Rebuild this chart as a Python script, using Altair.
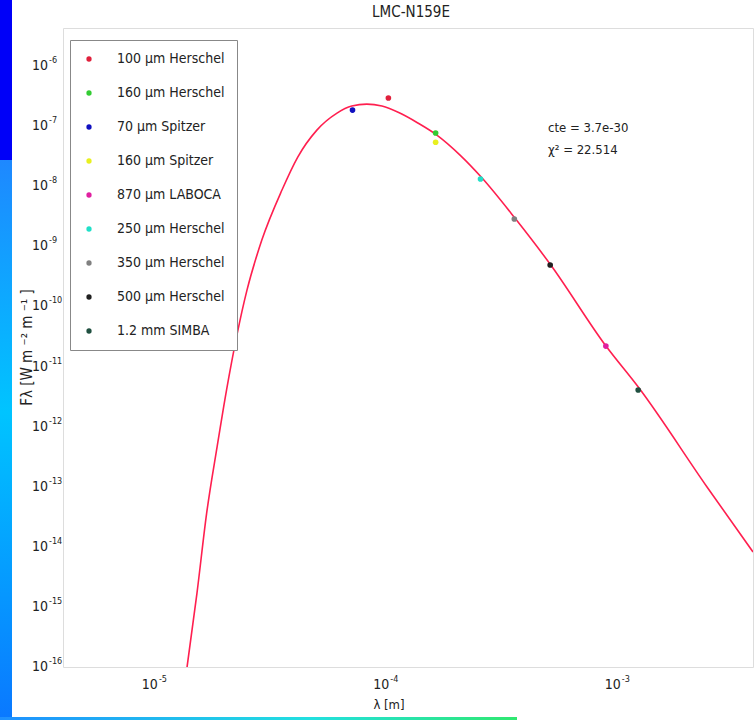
import altair as alt
import pandas as pd

# ---- data ----
series_names = ["100 \u03bcm Herschel", "160 \u03bcm Herschel", "70 \u03bcm Spitzer",
                "160 \u03bcm Spitzer", "870 \u03bcm LABOCA", "250 \u03bcm Herschel",
                "350 \u03bcm Herschel", "500 \u03bcm Herschel", "1.2 mm SIMBA"]
series_colors = ["#e0203c", "#33cc33", "#1010c0", "#e8f020", "#e020a0",
                 "#20e0c8", "#808080", "#202020", "#205040"]
point_wavelength = [1.0e-4, 1.6e-4, 7.0e-5, 1.6e-4, 8.7e-4, 2.5e-4, 3.5e-4, 5.0e-4, 1.2e-3]
point_flux = [2.94e-7, 7.7e-8, 1.85e-7, 5.4e-8, 2.19e-11, 1.32e-8, 2.85e-9, 4.9e-10, 4.07e-12]

curve_wavelength = [1.35e-5, 1.49e-5, 1.64e-5, 1.82e-5, 2.00e-5, 2.45e-5, 2.84e-5, 3.47e-5,
                    4.06e-5, 4.91e-5, 6.0e-5, 6.95e-5, 8.07e-5, 9.38e-5, 1.12e-4, 1.34e-4,
                    1.62e-4, 2.04e-4, 2.54e-4, 3.52e-4, 5.03e-4, 8.71e-4, 1.21e-3, 2.38e-3, 3.76e-3]
curve_flux = [1.0e-16, 1.70e-15, 3.6e-14, 4.6e-13, 4.1e-12, 1.87e-10, 1.27e-9, 8.65e-9,
              3.06e-8, 8.6e-8, 1.65e-7, 2.16e-7, 2.33e-7, 2.16e-7, 1.65e-7, 1.13e-7,
              7.1e-8, 3.3e-8, 1.37e-8, 2.96e-9, 4.89e-10, 2.19e-11, 4.38e-12, 9.9e-14, 8.2e-15]

x_ticks = [1e-5, 1e-4, 1e-3]
x_tick_exponents = ["-5", "-4", "-3"]
y_ticks = [1e-16, 1e-15, 1e-14, 1e-13, 1e-12, 1e-11, 1e-10, 1e-9, 1e-8, 1e-7, 1e-6]
y_tick_exponents = ["-16", "-15", "-14", "-13", "-12", "-11", "-10", "-9", "-8", "-7", "-6"]
tick_base = "10"
x_domain = [3.93e-6, 3.76e-3]
y_domain = [1e-16, 4.3e-6]
annotation_lines = ["cte = 3.7e-30", "\u03c7\u00b2  = 22.514"]
title_text = "LMC-N159E"
x_title = "\u03bb [m]"
y_title = "F\u03bb   [W  m  \u207b\u00b2  m  \u207b\u00b9 ]"

FONT = "'DejaVu Sans Condensed', 'Liberation Sans Narrow', 'Liberation Sans', sans-serif"
W, H = 690, 639
INK = "#222"

points = pd.DataFrame({"lam": point_wavelength, "flux": point_flux, "series": series_names})
curve = pd.DataFrame({"lam": curve_wavelength, "flux": curve_flux})
xt = pd.DataFrame({"lam": x_ticks, "exp": x_tick_exponents, "base": tick_base})
yt = pd.DataFrame({"flux": y_ticks, "exp": y_tick_exponents, "base": tick_base})
one = pd.DataFrame({"a": [0]})

xscale = alt.Scale(type="log", domain=x_domain, nice=False)
yscale = alt.Scale(type="log", domain=y_domain, nice=False)
X = alt.X("lam:Q", scale=xscale, axis=None)
Y = alt.Y("flux:Q", scale=yscale, axis=None)

line = alt.Chart(curve).mark_line(color="#ff1f4f", strokeWidth=1.6, clip=True,
                                  interpolate="monotone").encode(x=X, y=Y)

pts = alt.Chart(points).mark_point(filled=True, size=32, opacity=1, shape="circle").encode(
    x=X, y=Y,
    color=alt.Color("series:N", sort=series_names,
                    scale=alt.Scale(domain=series_names, range=series_colors),
                    legend=alt.Legend(orient="none", legendX=7, legendY=12, title=None,
                                      labelFont=FONT, labelFontSize=14, labelColor=INK,
                                      symbolType="circle", symbolSize=28,
                                      symbolStrokeWidth=0, rowPadding=20, padding=12,
                                      labelOffset=21, strokeColor="#888",
                                      fillColor="white", labelLimit=200)))

# tick labels: base "10" plus raised exponent
ytick_base = alt.Chart(yt).mark_text(font=FONT, fontSize=14, align="right",
                                     baseline="middle", color=INK).encode(
    y=Y, x=alt.value(-15), text="base:N")
ytick_exp = alt.Chart(yt).mark_text(font=FONT, fontSize=9, align="left",
                                    baseline="middle", color=INK, dy=-6).encode(
    y=Y, x=alt.value(-14), text="exp:N")
xtick_base = alt.Chart(xt).mark_text(font=FONT, fontSize=14, align="right",
                                     baseline="middle", color=INK, dx=1).encode(
    x=X, y=alt.value(H + 18), text="base:N")
xtick_exp = alt.Chart(xt).mark_text(font=FONT, fontSize=9, align="left",
                                    baseline="middle", color=INK, dx=2, dy=-6).encode(
    x=X, y=alt.value(H + 18), text="exp:N")

xtitle = alt.Chart(one).mark_text(font=FONT, fontSize=13, align="center",
                                  baseline="middle", color=INK).encode(
    x=alt.value(326), y=alt.value(H + 38), text=alt.value(x_title))
ytitle = alt.Chart(one).mark_text(font=FONT, fontSize=15, align="center",
                                  baseline="middle", color=INK, angle=270).encode(
    x=alt.value(-36), y=alt.value(H / 2), text=alt.value(y_title))

ann = alt.Chart(one).mark_text(font=FONT, fontSize=13, align="left", baseline="middle",
                               color=INK, lineHeight=22).encode(
    x=alt.value(485), y=alt.value(100), text=alt.value(annotation_lines))

title = alt.Chart(one).mark_text(font=FONT, fontSize=15, align="center", baseline="middle",
                                 color=INK).encode(
    x=alt.value(W / 2 + 3), y=alt.value(-16), text=alt.value(title_text))

# slide background decorations (outside the plot)
top_blue = alt.Chart(one).mark_rect(color="#0000f8").encode(
    x=alt.value(-63), x2=alt.value(-51), y=alt.value(-28), y2=alt.value(132))
lower_blue = alt.Chart(one).mark_rect(
    color=alt.Gradient(gradient="linear", x1=0, x2=0, y1=0, y2=1,
                       stops=[alt.GradientStop(color="#1e88ff", offset=0),
                              alt.GradientStop(color="#00c4ff", offset=0.45),
                              alt.GradientStop(color="#0a78ff", offset=1)])).encode(
    x=alt.value(-63), x2=alt.value(-51), y=alt.value(132), y2=alt.value(692))
bottom_bar = alt.Chart(one).mark_rect(
    color=alt.Gradient(gradient="linear", x1=0, x2=1, y1=0, y2=0,
                       stops=[alt.GradientStop(color="#1e90ff", offset=0),
                              alt.GradientStop(color="#22e0e0", offset=0.6),
                              alt.GradientStop(color="#30e870", offset=1)])).encode(
    x=alt.value(-63), x2=alt.value(454), y=alt.value(689), y2=alt.value(692))

chart = alt.layer(top_blue, lower_blue, bottom_bar, line, pts,
                  ytick_base, ytick_exp, xtick_base, xtick_exp,
                  xtitle, ytitle, ann, title).properties(
    width=W, height=H,
    autosize=alt.AutoSizeParams(type="none"),
    padding={"left": 63, "top": 28, "right": 2, "bottom": 53},
).configure_view(stroke="#333", strokeWidth=1.2).configure(background="white")

chart.save("out.html", embed_options={"renderer": "svg", "actions": False})
